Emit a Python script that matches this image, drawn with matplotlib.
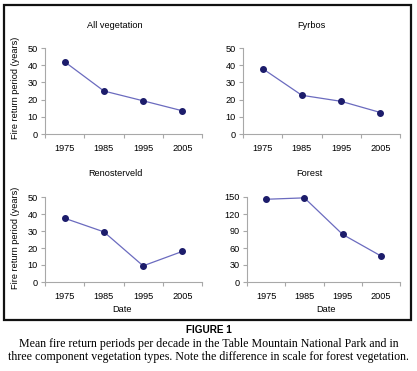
import matplotlib
matplotlib.use("Agg")
import matplotlib.pyplot as plt
from matplotlib.patches import Rectangle

years = ["1975", "1985", "1995", "2005"]
all_veg = [42, 25, 19.3, 13.5]
fynbos = [38, 22.5, 19, 12.5]
renosterveld = [37.5, 29.5, 9.5, 18]
forest = [146, 148.5, 84, 46]

titles = ["All vegetation", "Fyrbos", "Renosterveld", "Forest"]
series = [all_veg, fynbos, renosterveld, forest]
yticks = [range(0, 51, 10)] * 3 + [range(0, 151, 30)]

plt.rcParams['font.family'] = ['Liberation Sans', 'DejaVu Sans']

W, H = 417, 371
fig = plt.figure(figsize=(W / 100, H / 100), dpi=100)

# axes boxes in pixels: left, right, top, bottom
boxes = [(45, 202, 48, 134), (243, 400, 48, 134),
         (45, 202, 197, 282), (247, 400, 197, 282)]
title_x = [115, 311, 115, 309]
title_y = [25, 25, 173, 174]
fs = 6.6

line_col = '#6b6bbf'
mark_col = '#1c1c6b'
axis_col = '#a8a8a8'

for i, (l, r, t, b) in enumerate(boxes):
    ax = fig.add_axes([l / W, 1 - b / H, (r - l) / W, (b - t) / H])
    x = range(len(years))
    ax.plot(x, series[i], color=line_col, lw=0.9, marker='o', ms=4.0,
            mfc=mark_col, mec=mark_col, clip_on=False)
    ax.set_xlim(-0.5, 3.5)
    yt = list(yticks[i])
    ax.set_ylim(yt[0], yt[-1])
    ax.set_yticks(yt)
    ax.set_xticks([-0.5, 0.5, 1.5, 2.5, 3.5])
    ax.set_xticklabels([])
    ax.set_xticks(x, minor=True)
    ax.set_xticklabels(years, minor=True)
    ax.tick_params(axis='x', which='minor', length=0, pad=7, labelsize=fs)
    ax.tick_params(axis='x', which='major', length=3, color=axis_col, width=0.8)
    ax.tick_params(axis='y', length=3, color=axis_col, width=0.8, labelsize=fs, pad=2)
    for s in ['top', 'right']:
        ax.spines[s].set_visible(False)
    for s in ['left', 'bottom']:
        ax.spines[s].set_color(axis_col)
        ax.spines[s].set_linewidth(0.8)
    fig.text(title_x[i] / W, 1 - title_y[i] / H, titles[i], ha='center',
             va='center', fontsize=fs)

fig.text(16 / W, 1 - 88 / H, "Fire return period (years)", rotation=90,
         ha='center', va='center', fontsize=fs)
fig.text(16 / W, 1 - 238 / H, "Fire return period (years)", rotation=90,
         ha='center', va='center', fontsize=fs)
fig.text(122 / W, 1 - 309 / H, "Date", ha='center', va='center', fontsize=fs)
fig.text(326 / W, 1 - 309 / H, "Date", ha='center', va='center', fontsize=fs)

fig.patches.append(Rectangle((4 / W, 1 - 320 / H), 407 / W, 315 / H,
                             transform=fig.transFigure, fill=False,
                             ec='#111111', lw=1.6))

fig.text(0.5, 1 - 330 / H, "FIGURE 1", ha='center', va='center',
         fontsize=7.2, fontweight='bold')
fig.text(0.5, 1 - 344 / H,
         "Mean fire return periods per decade in the Table Mountain National Park and in",
         ha='center', va='center', fontsize=8.6, family='Liberation Serif')
fig.text(0.5, 1 - 357 / H,
         "three component vegetation types. Note the difference in scale for forest vegetation.",
         ha='center', va='center', fontsize=8.6, family='Liberation Serif')

fig.savefig("out.png", dpi=100)
